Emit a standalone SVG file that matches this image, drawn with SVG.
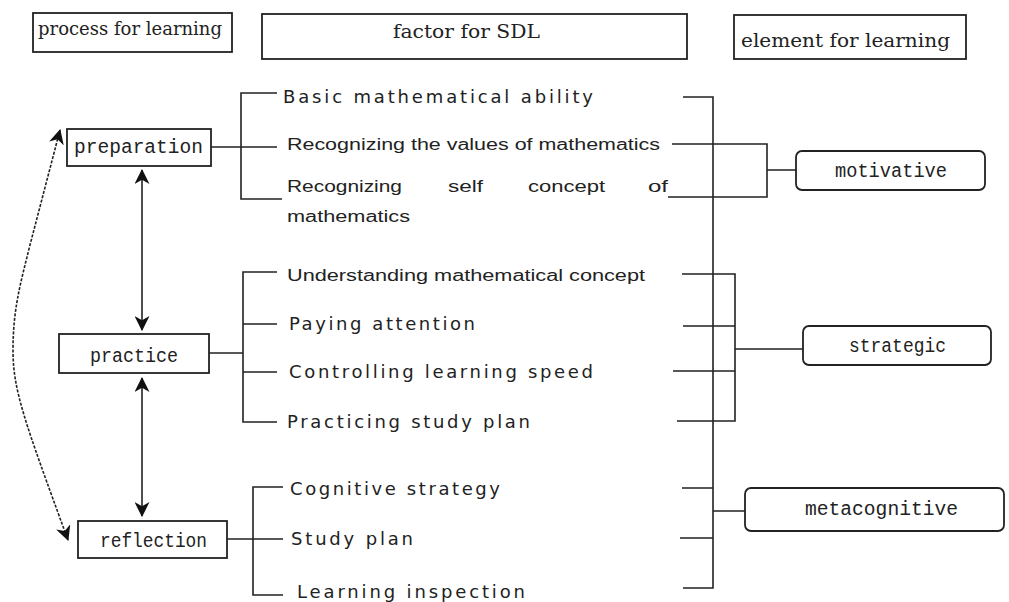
<svg xmlns="http://www.w3.org/2000/svg" width="1009" height="602" viewBox="0 0 1009 602">
<style>
.box{fill:#fff;stroke:#222;stroke-width:1.8}
.rbox{fill:#fff;stroke:#222;stroke-width:1.8}
.ln{fill:none;stroke:#222;stroke-width:1.6}
.hd{font-family:"DejaVu Serif","Liberation Serif",serif;font-size:19px;fill:#222}
.nd{font-family:"Liberation Mono","DejaVu Sans Mono",monospace;font-size:20px;fill:#222}
.ft{font-family:"DejaVu Sans","Liberation Sans",sans-serif;font-size:18px;fill:#222}
.fs{font-family:"Liberation Sans","DejaVu Sans",sans-serif;font-size:16px;fill:#222}
</style>
<defs>
<marker id="ah" viewBox="0 0 14 14" refX="13" refY="7" markerWidth="15" markerHeight="15" markerUnits="userSpaceOnUse" orient="auto-start-reverse">
<path d="M0,0 L14,7 L0,14 L4,7 z" fill="#111"/>
</marker>
</defs>

<g id="hdr-process"><rect class="box" x="33" y="13" width="199" height="39"/><text class="hd" x="38" y="35" textLength="184" lengthAdjust="spacingAndGlyphs">process for learning</text></g>
<g id="hdr-factor"><rect class="box" x="262" y="14" width="425" height="45"/><text class="hd" x="393" y="38" textLength="147" lengthAdjust="spacingAndGlyphs">factor for SDL</text></g>
<g id="hdr-element"><rect class="box" x="734" y="15" width="232" height="44"/><text class="hd" x="741" y="47" textLength="209" lengthAdjust="spacingAndGlyphs">element for learning</text></g>

<g id="preparation"><rect class="box" x="67" y="129" width="144" height="37"/><text class="nd" x="74" y="153" textLength="129" lengthAdjust="spacingAndGlyphs">preparation</text></g>
<g id="practice"><rect class="box" x="59" y="334" width="150" height="39"/><text class="nd" x="90" y="362" textLength="88" lengthAdjust="spacingAndGlyphs">practice</text></g>
<g id="reflection"><rect class="box" x="78" y="521" width="149" height="37"/><text class="nd" x="100" y="547" textLength="107" lengthAdjust="spacingAndGlyphs">reflection</text></g>

<g id="motivative"><rect class="rbox" x="796" y="151" width="189" height="39" rx="6"/><text class="nd" x="835" y="177" textLength="112" lengthAdjust="spacingAndGlyphs">motivative</text></g>
<g id="strategic"><rect class="rbox" x="803" y="326" width="188" height="39" rx="6"/><text class="nd" x="849" y="352" textLength="97" lengthAdjust="spacingAndGlyphs">strategic</text></g>
<g id="metacognitive"><rect class="rbox" x="745" y="488" width="259" height="43" rx="6"/><text class="nd" x="805" y="515" textLength="153" lengthAdjust="spacingAndGlyphs">metacognitive</text></g>

<g id="factors">
<text class="ft" x="283" y="103" textLength="310" lengthAdjust="spacing">Basic mathematical ability</text>
<text class="fs" x="287" y="150" textLength="373" lengthAdjust="spacingAndGlyphs">Recognizing the values of mathematics</text>
<text class="fs" y="192"><tspan x="287" textLength="115" lengthAdjust="spacingAndGlyphs">Recognizing</tspan><tspan x="448" textLength="35" lengthAdjust="spacingAndGlyphs">self</tspan><tspan x="528" textLength="77" lengthAdjust="spacingAndGlyphs">concept</tspan><tspan x="648" textLength="20" lengthAdjust="spacingAndGlyphs">of</tspan></text>
<text class="fs" x="287" y="222" textLength="123" lengthAdjust="spacingAndGlyphs">mathematics</text>
<text class="fs" x="287" y="281" textLength="358" lengthAdjust="spacingAndGlyphs">Understanding mathematical concept</text>
<text class="ft" x="289" y="330" textLength="186" lengthAdjust="spacing">Paying attention</text>
<text class="ft" x="289" y="378" textLength="304" lengthAdjust="spacing">Controlling learning speed</text>
<text class="ft" x="287" y="428" textLength="243" lengthAdjust="spacing">Practicing study plan</text>
<text class="ft" x="290" y="495" textLength="210" lengthAdjust="spacing">Cognitive strategy</text>
<text class="ft" x="291" y="545" textLength="122" lengthAdjust="spacing">Study plan</text>
<text class="ft" x="297" y="598" textLength="228" lengthAdjust="spacing">Learning inspection</text>
</g>

<g id="connectors">
<path class="ln" d="M211,147 H277 M277,93 H241 V199 H282"/>
<path class="ln" d="M209,353 H243 M277,272 H243 V422 H277 M243,324 H277 M243,372 H277"/>
<path class="ln" d="M227,539 H283 M283,487 H253 V595 H283"/>
<path class="ln" d="M683,97 H713 V588 H683"/>
<path class="ln" d="M672,144 H767 V197 H668 M767,170 H796"/>
<path class="ln" d="M682,274 H735 V421 H677 M683,326 H735 M673,371 H735 M735,349 H803"/>
<path class="ln" d="M682,488 H713 M680,538 H713 M713,511 H745"/>
<path class="ln" d="M142,170 V330" marker-start="url(#ah)" marker-end="url(#ah)"/>
<path class="ln" d="M142,378 V516" marker-start="url(#ah)" marker-end="url(#ah)"/>
<path class="ln" stroke-dasharray="3,1.5" d="M60,130 L30,245 C20,285 13,310 13,350 C13,390 24,420 68,540" marker-start="url(#ah)" marker-end="url(#ah)"/>
</g>
</svg>
